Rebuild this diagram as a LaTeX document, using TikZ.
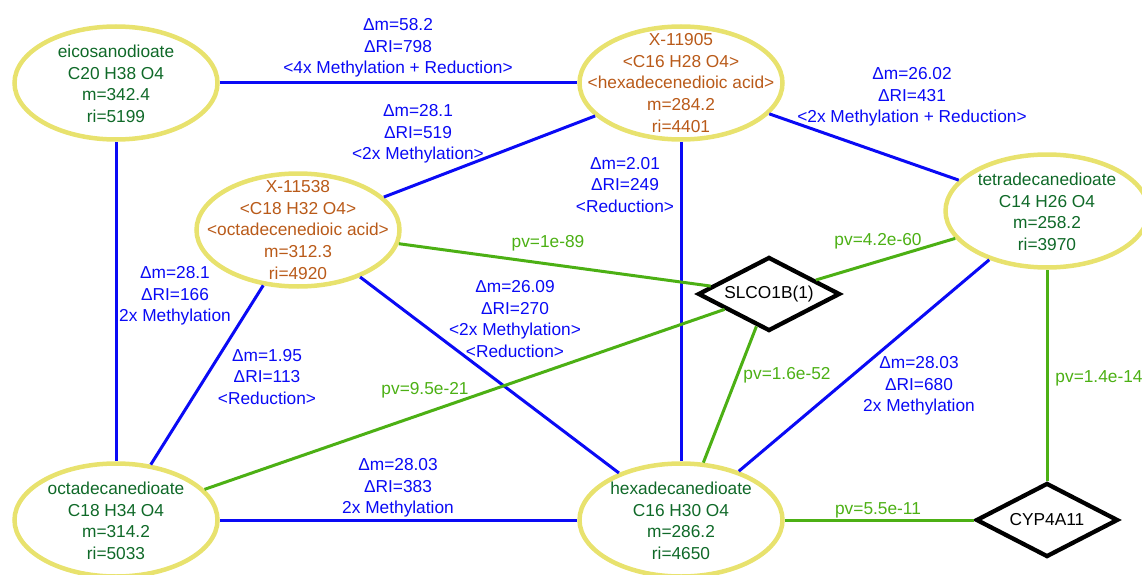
\documentclass[tikz,border=0pt]{standalone}
\usepackage{fontspec}
\setmainfont{Liberation Sans}
\usetikzlibrary{shapes.geometric}

\definecolor{edgeblue}{RGB}{10,10,245}
\definecolor{pvgreen}{RGB}{76,176,20}
\definecolor{metgreen}{RGB}{15,105,40}
\definecolor{unkbrown}{RGB}{185,90,25}
\definecolor{rimyellow}{RGB}{232,226,110}

\begin{document}
\begin{tikzpicture}[x=1pt,y=-1pt,
  every node/.style={font=\fontsize{17.3}{21.6}\selectfont, align=center, inner sep=0pt},
  met/.style={ellipse, draw=rimyellow, line width=4.5pt, minimum width=203pt, minimum height=113pt},
  mettext/.style={text=metgreen},
  unktext/.style={text=unkbrown},
  enz/.style={diamond, draw=black, line width=4.3pt, aspect=2, minimum width=142pt, minimum height=74pt},
  rel/.style={draw=edgeblue, line width=3pt},
  rellabel/.style={text=edgeblue},
  pv/.style={draw=pvgreen, line width=3pt},
  pvlabel/.style={text=pvgreen},
]
\useasboundingbox (0,0) rectangle (1142,575);

% metabolites
\node[met] (eic) at (116,83) {};
\node[mettext] (eic-t) at ([yshift=-1]eic) {eicosanodioate\\C20 H38 O4\\m=342.4\\ri=5199};
\node[met] (x19) at (681,83) {};
\node[unktext] (x19-t) at (x19) {X-11905\\<C16 H28 O4>\\<hexadecenedioic acid>\\m=284.2\\ri=4401};
\node[met] (x38) at (298,230) {};
\node[unktext] (x38-t) at (x38) {X-11538\\<C18 H32 O4>\\<octadecenedioic acid>\\m=312.3\\ri=4920};
\node[met] (tet) at (1047,211) {};
\node[mettext] (tet-t) at ([yshift=-1]tet) {tetradecanedioate\\C14 H26 O4\\m=258.2\\ri=3970};
\node[met] (oct) at (116,520) {};
\node[mettext] (oct-t) at ([yshift=-1]oct) {octadecanedioate\\C18 H34 O4\\m=314.2\\ri=5033};
\node[met] (hex) at (681,520) {};
\node[mettext] (hex-t) at ([yshift=-1]hex) {hexadecanedioate\\C16 H30 O4\\m=286.2\\ri=4650};

% enzymes
\node[enz] (slco) at (769,294) {SLCO1B(1)};
\node[enz] (cyp) at (1047,520) {CYP4A11};

% mass relations
\draw[rel] (eic) -- (x19);
\draw[rel] (eic) -- (oct);
\draw[rel] (x19) -- (x38);
\draw[rel] (x19) -- (hex);
\draw[rel] (x19) -- (tet);
\draw[rel] (x38) -- (oct);
\draw[rel] (x38) -- (hex);
\draw[rel] (tet) -- (hex);
\draw[rel] (oct) -- (hex);

% enzyme associations
\draw[pv] (x38) -- (slco);
\draw[pv] (tet) -- (slco);
\draw[pv] (oct) -- (slco);
\draw[pv] (hex) -- (slco);
\draw[pv] (hex) -- (cyp);
\draw[pv] (tet) -- (cyp);

% relation labels
\node[rellabel] (l1) at (398,48) {Δm=58.2\\ΔRI=798\\<4x Methylation + Reduction>};
\node[rellabel] (l2) at (175,296) {Δm=28.1\\ΔRI=166\\2x Methylation};
\node[rellabel] (l3) at (418,134) {Δm=28.1\\ΔRI=519\\<2x Methylation>};
\node[rellabel] (l4) at (625,185) {Δm=2.01\\ΔRI=249\\<Reduction>};
\node[rellabel] (l5) at (912,97) {Δm=26.02\\ΔRI=431\\<2x Methylation + Reduction>};
\node[rellabel] (l6) at (267,377) {Δm=1.95\\ΔRI=113\\<Reduction>};
\node[rellabel] (l7) at (515,319) {Δm=26.09\\ΔRI=270\\<2x Methylation>\\<Reduction>};
\node[rellabel] (l8) at (919,386) {Δm=28.03\\ΔRI=680\\2x Methylation};
\node[rellabel] (l9) at (398,488) {Δm=28.03\\ΔRI=383\\2x Methylation};

% p-value labels
\node[pvlabel] (p1) at (548,243) {pv=1e-89};
\node[pvlabel] (p2) at (878,241) {pv=4.2e-60};
\node[pvlabel] (p3) at (425,390) {pv=9.5e-21};
\node[pvlabel] (p4) at (787,375) {pv=1.6e-52};
\node[pvlabel] (p5) at (878,510) {pv=5.5e-11};
\node[pvlabel] (p6) at (1099,378) {pv=1.4e-14};
\end{tikzpicture}
\end{document}
